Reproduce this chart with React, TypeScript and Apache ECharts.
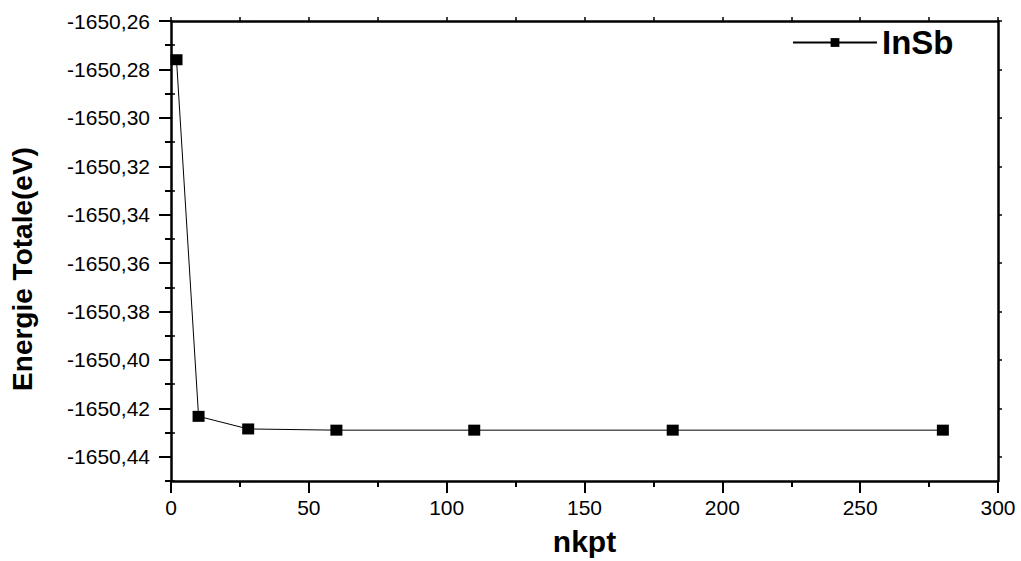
import React, { useEffect, useRef } from "react";
import * as echarts from "echarts";

// k-point convergence of the total energy for InSb
const nkpt = [2, 10, 28, 60, 110, 182, 280];
const energy = [-1650.276, -1650.4233, -1650.4285, -1650.429, -1650.429, -1650.429, -1650.429];

// y-axis ticks: labelled majors every 0.02, minors in between
const yMajorTicks = [-1650.44, -1650.42, -1650.4, -1650.38, -1650.36, -1650.34, -1650.32, -1650.3, -1650.28, -1650.26];
const yMinorTicks = [-1650.45, -1650.43, -1650.41, -1650.39, -1650.37, -1650.35, -1650.33, -1650.31, -1650.29, -1650.27];

const FONT = "'Liberation Sans', Arial, sans-serif";
const BLACK = "#000";

export default function App() {
  const ref = useRef<HTMLDivElement>(null);

  useEffect(() => {
    if (!ref.current) return;
    const chart = echarts.init(ref.current, undefined, { renderer: "svg" });

    const axisLine = { show: true, onZero: false, lineStyle: { color: BLACK, width: 2.5 } };
    const yRange = { min: -1650.45, max: -1650.26 };

    chart.setOption({
      animation: false,
      backgroundColor: "#fff",
      textStyle: { fontFamily: FONT },
      grid: { left: 171, right: 23, top: 21, bottom: 78 },
      legend: {
        data: ["InSb"],
        left: 792,
        top: 26,
        padding: 0,
        itemWidth: 84,
        itemHeight: 11,
        textStyle: { fontFamily: FONT, fontSize: 33, fontWeight: "bold", color: BLACK },
      },
      xAxis: [
        {
          type: "value",
          position: "bottom",
          min: 0,
          max: 300,
          interval: 50,
          axisLine,
          axisTick: { show: true, inside: false, length: 12, lineStyle: { color: BLACK, width: 2 } },
          minorTick: { show: true, splitNumber: 2, length: 6, lineStyle: { color: BLACK, width: 2 } },
          splitLine: { show: false },
          minorSplitLine: { show: false },
          axisLabel: { margin: 16, fontSize: 21, color: BLACK, fontFamily: FONT },
          name: "nkpt",
          nameLocation: "middle",
          nameGap: 45,
          nameTextStyle: { fontSize: 30, fontWeight: "bold", color: BLACK, fontFamily: FONT },
        },
        {
          type: "value",
          position: "top",
          min: 0,
          max: 300,
          interval: 50,
          axisLine,
          axisTick: { show: true, inside: false, length: 4, lineStyle: { color: BLACK, width: 1.5 } },
          minorTick: { show: true, splitNumber: 2, length: 4, lineStyle: { color: BLACK, width: 1.5 } },
          splitLine: { show: false },
          minorSplitLine: { show: false },
          axisLabel: { show: false },
        },
      ],
      yAxis: [
        {
          type: "value",
          position: "left",
          ...yRange,
          axisLine,
          axisTick: {
            show: true,
            inside: false,
            length: 12,
            customValues: yMajorTicks,
            lineStyle: { color: BLACK, width: 2 },
          },
          splitLine: { show: false },
          axisLabel: {
            customValues: yMajorTicks,
            margin: 21,
            fontSize: 21,
            color: BLACK,
            fontFamily: FONT,
            formatter: (v: number) => v.toFixed(2).replace(".", ","),
          },
          name: "Energie Totale(eV)",
          nameLocation: "middle",
          nameGap: 135,
          nameRotate: 90,
          nameTextStyle: {
            fontSize: 28,
            fontWeight: "bold",
            color: BLACK,
            fontFamily: FONT,
            padding: [0, 36, 0, 0],
          },
        },
        {
          type: "value",
          position: "left",
          ...yRange,
          axisLine: { show: false },
          axisTick: {
            show: true,
            inside: false,
            length: 6,
            customValues: yMinorTicks,
            lineStyle: { color: BLACK, width: 2 },
          },
          splitLine: { show: false },
          axisLabel: { show: false },
        },
        {
          type: "value",
          position: "right",
          ...yRange,
          axisLine,
          axisTick: {
            show: true,
            inside: false,
            length: 4,
            customValues: yMajorTicks,
            lineStyle: { color: BLACK, width: 1.5 },
          },
          splitLine: { show: false },
          axisLabel: { show: false },
        },
        {
          type: "value",
          position: "right",
          ...yRange,
          axisLine: { show: false },
          axisTick: {
            show: true,
            inside: false,
            length: 4,
            customValues: yMinorTicks,
            lineStyle: { color: BLACK, width: 1.5 },
          },
          splitLine: { show: false },
          axisLabel: { show: false },
        },
      ],
      series: [
        {
          name: "InSb",
          type: "line",
          xAxisIndex: 0,
          yAxisIndex: 0,
          data: nkpt.map((k, i) => [k, energy[i]]),
          symbol: "rect",
          symbolSize: [12, 11],
          showSymbol: true,
          itemStyle: { color: BLACK },
          lineStyle: { color: BLACK, width: 1 },
        },
      ],
    });

    return () => chart.dispose();
  }, []);

  return (
    <div
      ref={ref}
      style={{ position: "fixed", left: 0, top: 0, width: 1021, height: 561, background: "#fff" }}
    />
  );
}
